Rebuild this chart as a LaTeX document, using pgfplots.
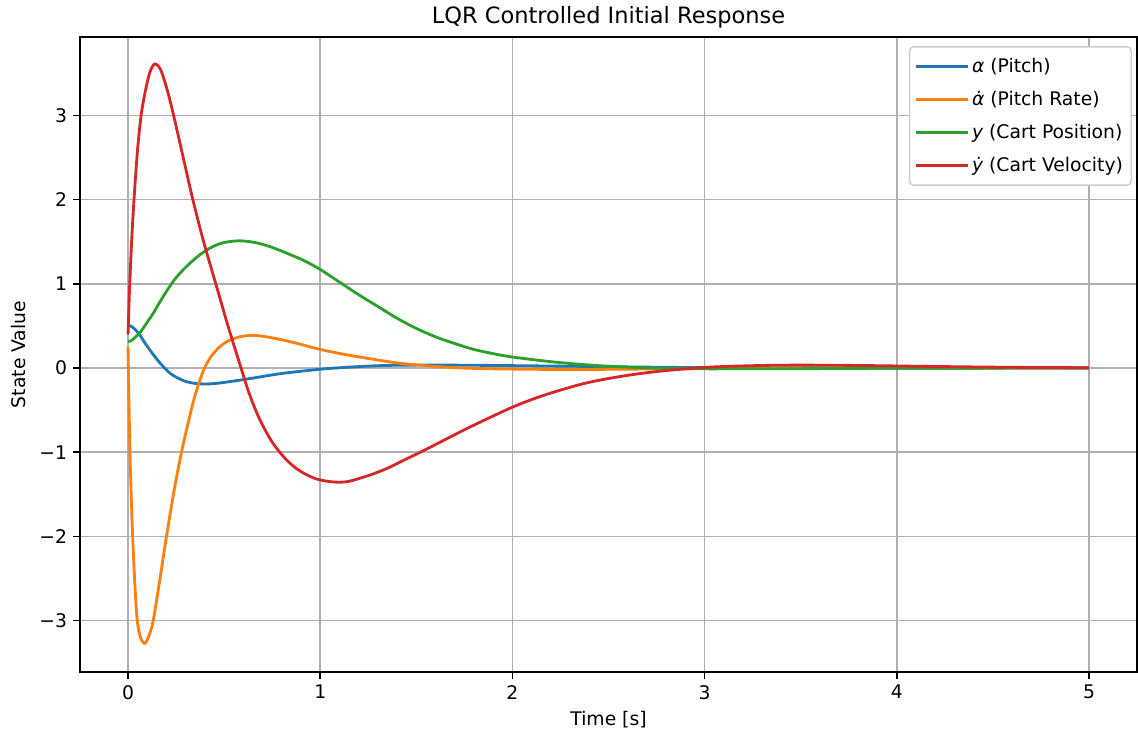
\documentclass[border=0pt]{standalone}
\usepackage{fontspec}
\setmainfont{DejaVu Sans}
\usepackage{pgfplots}
\pgfplotsset{compat=1.18}
\definecolor{c1}{HTML}{1F77B4}
\definecolor{c2}{HTML}{FF7F0E}
\definecolor{c3}{HTML}{2CA02C}
\definecolor{c4}{HTML}{D62728}
\definecolor{gridgray}{HTML}{B0B0B0}
\definecolor{leggray}{HTML}{CCCCCC}
\newcommand{\fs}{\fontsize{13.5pt}{16pt}\selectfont}
\begin{document}
\fs
\begin{tikzpicture}
\begin{axis}[
  name=ax,
  scale only axis,
  width=761pt, height=457.2pt,
  xmin=-0.25, xmax=5.25, ymin=-3.61, ymax=3.93,
  xtick={0,1,2,3,4,5},
  ytick={-3,-2,-1,0,1,2,3},
  yticklabels={−3,−2,−1,0,1,2,3},
  /pgf/number format/assume math mode=true,
  tick pos=left,
  tick align=outside,
  major tick length=4.7pt,
  tick style={black, line width=1.08pt},
  axis line style={line width=1.08pt},
  grid=major,
  grid style={gridgray, line width=1.08pt},
  title={LQR Controlled Initial Response},
  title style={font=\fontsize{16.2pt}{19pt}\selectfont, at={(axis description cs:0.5,1.0184)}, anchor=center},
  xlabel={Time [s]},
  ylabel={State Value},
  xlabel style={at={(axis description cs:0.5,-0.0757)}, anchor=center},
  ylabel style={at={(axis description cs:-0.0586,0.5)}, anchor=center},
  ticklabel style={font=\fs},
  label style={font=\fs},
  legend style={at={(1,1)}, anchor=north east, xshift=-3.6pt, yshift=-6.5pt,
    draw=leggray, line width=1.08pt, rounded corners=3pt, fill=white,
    font=\fs, row sep=7.5pt,
    inner xsep=4pt, inner ysep=6pt},
  legend cell align=left,
  legend image code/.code={\draw[#1, line width=2.03pt] (0pt,0pt) -- (29.5pt,0pt);
    \path (29.5pt,0pt) -- (37pt,0pt);},
]
% alpha (pitch)
\addplot[c1, line width=2.03pt, smooth] coordinates {
(0,0.51)(0.02,0.49)(0.04,0.45)(0.062,0.39)(0.09,0.29)(0.131,0.16)(0.17,0.05)
(0.217,-0.06)(0.26,-0.12)(0.30,-0.16)(0.35,-0.183)(0.407,-0.19)(0.47,-0.18)
(0.55,-0.155)(0.65,-0.12)(0.8,-0.065)(1.0,-0.015)(1.15,0.01)(1.34,0.03)
(1.6,0.035)(2.0,0.028)(2.4,0.018)(2.8,0.008)(3.2,0.002)(3.6,-0.001)(4.0,-0.002)
(4.5,-0.001)(5.0,0.0)};
% alpha dot (pitch rate)
\addplot[c2, line width=2.03pt, smooth] coordinates {
(0,0.25)(0.004,-0.3)(0.01,-1.0)(0.017,-1.55)(0.024,-2.0)(0.035,-2.55)(0.048,-3.0)
(0.065,-3.2)(0.088,-3.27)(0.11,-3.17)(0.131,-3.0)(0.165,-2.52)(0.2,-2.0)
(0.24,-1.45)(0.278,-1.0)(0.315,-0.63)(0.342,-0.38)(0.37,-0.17)(0.398,0.0)
(0.43,0.13)(0.476,0.25)(0.52,0.32)(0.58,0.37)(0.65,0.388)(0.72,0.37)(0.8,0.335)
(0.9,0.28)(1.0,0.22)(1.13,0.16)(1.26,0.11)(1.37,0.07)(1.48,0.04)(1.65,0.01)
(1.8,-0.005)(2.0,-0.013)(2.3,-0.018)(2.6,-0.014)(3.0,-0.006)(3.5,0.0)
(4.0,0.002)(5.0,0.0)};
% y (cart position)
\addplot[c3, line width=2.03pt, smooth] coordinates {
(0,0.31)(0.02,0.33)(0.04,0.37)(0.062,0.42)(0.09,0.51)(0.131,0.65)(0.17,0.80)
(0.217,0.97)(0.26,1.10)(0.32,1.24)(0.38,1.355)(0.44,1.44)(0.5,1.49)(0.58,1.51)
(0.66,1.49)(0.74,1.44)(0.84,1.35)(0.92,1.27)(1.0,1.17)(1.1,1.02)(1.2,0.87)
(1.3,0.73)(1.4,0.59)(1.5,0.47)(1.6,0.37)(1.7,0.29)(1.8,0.22)(1.9,0.17)(2.0,0.13)
(2.2,0.075)(2.4,0.035)(2.6,0.01)(2.8,-0.005)(3.0,-0.01)(3.5,-0.008)(4.0,-0.003)
(5.0,0.0)};
% y dot (cart velocity)
\addplot[c4, line width=2.03pt, smooth] coordinates {
(0,0.40)(0.008,0.95)(0.019,1.52)(0.031,2.0)(0.048,2.55)(0.068,3.0)(0.091,3.30)
(0.115,3.52)(0.14,3.61)(0.17,3.54)(0.204,3.30)(0.237,3.0)(0.287,2.5)(0.337,2.0)
(0.392,1.51)(0.459,0.98)(0.52,0.5)(0.588,0.0)(0.63,-0.3)(0.683,-0.6)(0.75,-0.88)
(0.82,-1.08)(0.88,-1.2)(0.94,-1.28)(1.0,-1.33)(1.08,-1.355)(1.15,-1.345)
(1.26,-1.27)(1.35,-1.19)(1.43,-1.10)(1.53,-0.99)(1.65,-0.85)(1.78,-0.70)
(1.9,-0.57)(2.0,-0.465)(2.1,-0.375)(2.21,-0.29)(2.38,-0.18)(2.55,-0.105)
(2.72,-0.05)(2.9,-0.01)(3.07,0.015)(3.3,0.03)(3.5,0.034)(3.8,0.03)(4.2,0.018)
(4.6,0.008)(5.0,0.003)};
\legend{{\itshape α} (Pitch), {\itshape α̇} (Pitch Rate), {\itshape y} (Cart Position), {\itshape ẏ} (Cart Velocity)}
\end{axis}
\pgfresetboundingbox
\path ([xshift=-57.6pt,yshift=-44.64pt]ax.south west) rectangle ([xshift=0.72pt,yshift=26.64pt]ax.north east);
\end{tikzpicture}
\end{document}
